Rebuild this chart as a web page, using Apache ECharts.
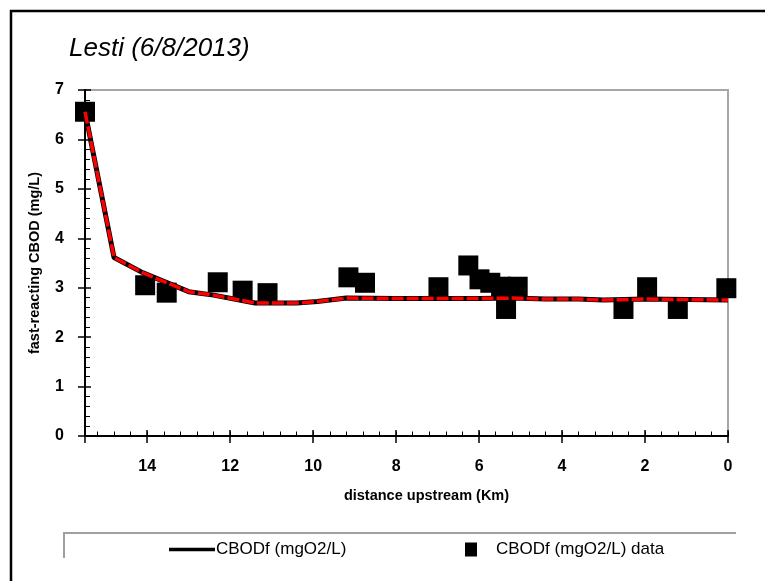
<!DOCTYPE html>
<html>
<head>
<meta charset="utf-8">
<script src="https://cdn.jsdelivr.net/npm/echarts@6/dist/echarts.min.js"></script>
<style>html,body{margin:0;padding:0;background:#fff}#c{width:765px;height:581px}</style>
</head>
<body>
<div id="c"></div>
<script>
// ---- data ----
const titleText = 'Lesti (6/8/2013)';
const xName = 'distance upstream (Km)';
const yName = 'fast-reacting CBOD (mg/L)';
const lineName = 'CBODf (mgO2/L)';
const dataName = 'CBODf (mgO2/L) data';
const xTicks = [0, 2, 4, 6, 8, 10, 12, 14];
const yTicks = [0, 1, 2, 3, 4, 5, 6, 7];
const modelX = [15.5, 14.8, 14.1, 13.0, 12.4, 11.4, 10.4, 9.9, 9.2, 8.0, 7.0, 6.0, 5.2, 4.4, 3.6, 3.0, 2.0, 1.0, 0];
const modelY = [6.56, 3.61, 3.30, 2.92, 2.85, 2.69, 2.69, 2.72, 2.79, 2.78, 2.78, 2.78, 2.79, 2.77, 2.77, 2.75, 2.77, 2.76, 2.75];
const obsX = [15.5, 14.05, 13.53, 12.3, 11.7, 11.1, 9.15, 8.75, 6.98, 6.26, 5.99, 5.73, 5.47, 5.35, 5.07, 2.52, 1.95, 1.21, 0.04];
const obsY = [6.56, 3.05, 2.90, 3.11, 2.94, 2.89, 3.21, 3.10, 3.01, 3.45, 3.17, 3.10, 3.02, 2.57, 3.02, 2.57, 3.01, 2.57, 2.99];

const FONT = '"Liberation Sans",Arial,sans-serif';
const modelData = modelX.map((x, i) => [x, modelY[i]]);
const obsData = obsX.map((x, i) => [x, obsY[i]]);

const chart = echarts.init(document.getElementById('c'), null, {renderer: 'canvas'});
const XMIN = 0, XMAX = 15.5, YMIN = 0, YMAX = 7;
const baseX = {type: 'value', min: XMIN, max: XMAX, inverse: true, gridIndex: 0, position: 'bottom', splitLine: {show: false}};
const baseY = {type: 'value', min: YMIN, max: YMAX, gridIndex: 0, position: 'left', splitLine: {show: false}};

chart.setOption({
  animation: false,
  backgroundColor: '#fff',
  title: {
    text: titleText, left: 64, top: 31,
    textStyle: {fontFamily: FONT, fontStyle: 'italic', fontWeight: 'normal', fontSize: 26, color: '#000'}
  },
  grid: {left: 85, right: 37, top: 90, bottom: 145, show: true, borderColor: '#a6a6a6', borderWidth: 2, backgroundColor: 'transparent'},
  legend: [
    {
      data: [{name: lineName, icon: 'rect'}], left: 164, top: 536, itemWidth: 46, itemHeight: 3.5, itemGap: 0,
      textStyle: {fontFamily: FONT, fontSize: 17, color: '#000', padding: [0, 0, 0, -4]}
    },
    {
      data: [{name: dataName, icon: 'rect'}], left: 460, top: 536, itemWidth: 12, itemHeight: 14,
      textStyle: {fontFamily: FONT, fontSize: 17, color: '#000', padding: [0, 0, 0, 14]}
    }
  ],
  xAxis: [
    Object.assign({}, baseX, {
      interval: 2,
      name: xName, nameLocation: 'middle', nameGap: 52,
      nameTextStyle: {fontFamily: FONT, fontWeight: 'bold', fontSize: 14.5, color: '#000', padding: [0, 0, 0, 40]},
      axisLine: {show: true, onZero: false, lineStyle: {color: '#000', width: 2}},
      axisTick: {show: true, inside: false, length: 7, lineStyle: {color: '#000', width: 1.5}},
      axisLabel: {
        show: true, margin: 23, fontFamily: FONT, fontWeight: 'bold', fontSize: 16, color: '#000',
        formatter: v => xTicks.indexOf(v) >= 0 ? String(v) : ''
      }
    }),
    Object.assign({}, baseX, {
      interval: 2,
      axisLine: {show: false, onZero: false}, axisLabel: {show: false},
      axisTick: {show: true, inside: true, length: 6, lineStyle: {color: '#000', width: 1.5}}
    }),
    Object.assign({}, baseX, {
      interval: 0.4,
      axisLine: {show: false, onZero: false}, axisLabel: {show: false},
      axisTick: {show: true, inside: true, length: 4.5, lineStyle: {color: '#000', width: 1}}
    })
  ],
  yAxis: [
    Object.assign({}, baseY, {
      interval: 1,
      name: yName, nameLocation: 'middle', nameGap: 43,
      nameTextStyle: {fontFamily: FONT, fontWeight: 'bold', fontSize: 14.5, color: '#000'},
      axisLine: {show: true, onZero: false, lineStyle: {color: '#000', width: 2}},
      axisTick: {show: true, inside: false, length: 7, lineStyle: {color: '#000', width: 1.5}},
      axisLabel: {
        show: true, margin: 21, fontFamily: FONT, fontWeight: 'bold', fontSize: 16, color: '#000',
        formatter: v => yTicks.indexOf(v) >= 0 ? String(v) : ''
      }
    }),
    Object.assign({}, baseY, {
      interval: 1,
      axisLine: {show: false, onZero: false}, axisLabel: {show: false},
      axisTick: {show: true, inside: true, length: 6, lineStyle: {color: '#000', width: 1.5}},
      minorTick: {show: true, splitNumber: 5, length: 5, lineStyle: {color: '#000', width: 1}}
    })
  ],
  graphic: [
    {type: 'line', shape: {x1: 10, y1: 11, x2: 765, y2: 11}, style: {stroke: '#000', lineWidth: 2.5}, silent: true},
    {type: 'line', shape: {x1: 11, y1: 10, x2: 11, y2: 581}, style: {stroke: '#000', lineWidth: 2.5}, silent: true},
    {type: 'line', shape: {x1: 64, y1: 533, x2: 736, y2: 533}, style: {stroke: '#a0a0a0', lineWidth: 2}, silent: true},
    {type: 'line', shape: {x1: 64, y1: 532, x2: 64, y2: 558}, style: {stroke: '#a0a0a0', lineWidth: 2}, silent: true}
  ],
  series: [
    {
      name: dataName, type: 'scatter', xAxisIndex: 0, yAxisIndex: 0, data: obsData,
      symbol: 'rect', symbolSize: 20, itemStyle: {color: '#000', opacity: 1}, z: 2
    },
    {
      name: lineName, type: 'line', xAxisIndex: 0, yAxisIndex: 0, data: modelData,
      showSymbol: false, symbol: 'none', lineStyle: {color: '#000', width: 5}, itemStyle: {color: '#000'}, z: 3
    },
    {
      name: 'model-red', type: 'line', xAxisIndex: 0, yAxisIndex: 0, data: modelData,
      showSymbol: false, symbol: 'none', lineStyle: {color: '#ff0000', width: 3.5, type: [12, 3]}, itemStyle: {color: '#ff0000'}, z: 4
    }
  ]
});
</script>
</body>
</html>
